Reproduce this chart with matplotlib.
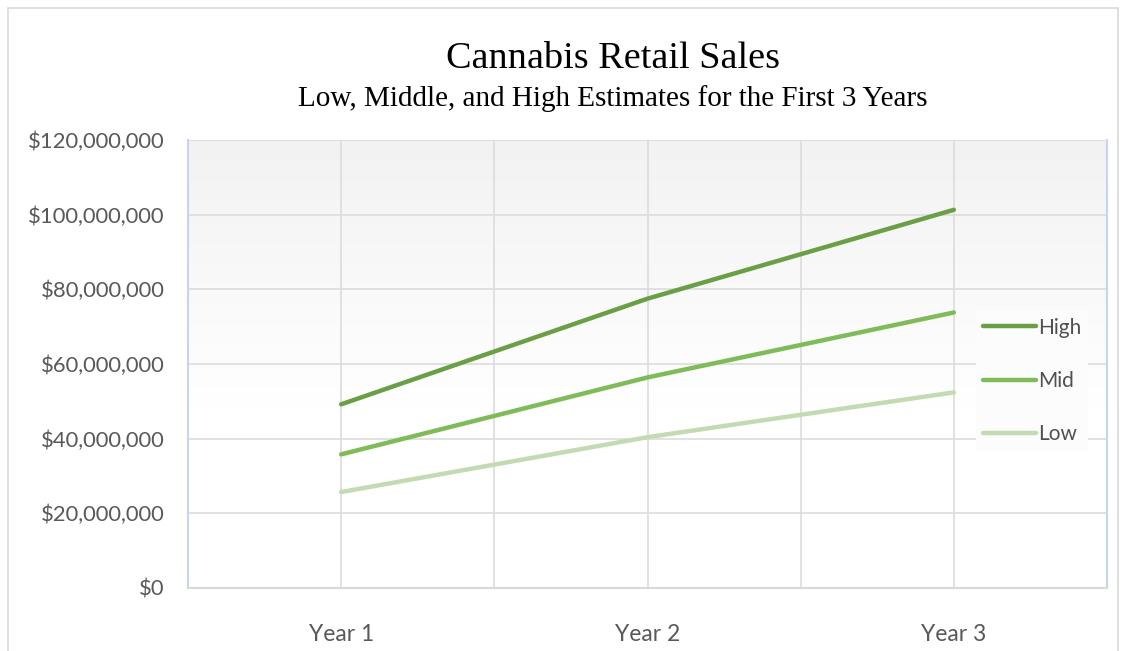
import matplotlib
matplotlib.use("Agg")
import matplotlib.pyplot as plt
import numpy as np
from matplotlib.ticker import FuncFormatter, MultipleLocator
from matplotlib.patches import Rectangle

years = ["Year 1", "Year 2", "Year 3"]
high = [49.2e6, 77.5e6, 101.3e6]
mid = [35.8e6, 56.4e6, 73.8e6]
low = [25.7e6, 40.4e6, 52.4e6]

W, H = 1128, 651
fig = plt.figure(figsize=(W / 100, H / 100), dpi=100)
fig.patch.set_facecolor("white")
fig.patches.append(Rectangle((8 / W, -0.01), (1118 - 8) / W, (H - 8) / H + 0.01,
                             transform=fig.transFigure, fill=False,
                             edgecolor="#d9d9d9", linewidth=1.2))

ax = fig.add_axes([188 / W, (H - 588) / H, (1107 - 188) / W, (588 - 140) / H])

# gradient background
grad = np.ones((256, 1, 3))
t = np.linspace(0, 1, 256)  # 0 top, 1 bottom
shade = np.clip(t / 0.6, 0, 1)
top_c = np.array([0xf2, 0xf2, 0xf2]) / 255
for i in range(256):
    grad[i, 0, :] = top_c + (1 - top_c) * shade[i]
ax.imshow(grad, extent=[0, 1, 0, 1], transform=ax.transAxes, aspect="auto", zorder=0)

x = np.arange(len(years))
ax.plot(x, high, color="#6a9f45", lw=3.2, solid_capstyle="round", label="High", zorder=3)
ax.plot(x, mid, color="#80bb5a", lw=3.2, solid_capstyle="round", label="Mid", zorder=3)
ax.plot(x, low, color="#c2dbb3", lw=3.2, solid_capstyle="round", label="Low", zorder=3)

ax.set_xlim(-0.5, 2.5)
ax.set_ylim(0, 120e6)
ax.set_xticks(x)
ax.set_xticklabels(years)
ax.xaxis.set_minor_locator(MultipleLocator(0.5))
ax.yaxis.set_major_locator(MultipleLocator(20e6))
ax.yaxis.set_major_formatter(FuncFormatter(lambda v, p: "${:,.0f}".format(v)))
ax.grid(True, which="both", axis="x", color="#dcdcdc", lw=1.2, zorder=1)
ax.grid(True, which="major", axis="y", color="#dcdcdc", lw=1.2, zorder=1)
ax.set_axisbelow(True)

ax.tick_params(axis="both", which="both", length=0, labelcolor="#595959")
ax.tick_params(axis="x", labelsize=16.5, pad=26)
ax.tick_params(axis="y", labelsize=15.8, pad=17)
for lab in ax.get_xticklabels() + ax.get_yticklabels():
    lab.set_family("Lato")

ax.spines["top"].set_visible(False)
ax.spines["left"].set_color("#c5d5ee")
ax.spines["right"].set_color("#c5d5ee")
ax.spines["left"].set_linewidth(1.5)
ax.spines["right"].set_linewidth(1.5)
ax.spines["bottom"].set_color("#d9d9d9")
ax.spines["bottom"].set_linewidth(1.5)

leg = ax.legend(loc="center left", bbox_to_anchor=(966 / W, (H - 381) / H),
                bbox_transform=fig.transFigure, frameon=True, fancybox=False,
                handlelength=2.55, handletextpad=0.12, labelspacing=1.6,
                borderpad=0.3, prop={"family": "Lato", "size": 15})
leg.get_frame().set_facecolor("#fcfcfc")
leg.get_frame().set_edgecolor("none")
leg.get_frame().set_alpha(1)
for txt in leg.get_texts():
    txt.set_color("#505050")

fig.text(613 / W, (H - 59) / H, "Cannabis Retail Sales", ha="center", va="center",
         family="Liberation Serif", fontsize=27.5, color="black")
fig.text(613 / W, (H - 99) / H, "Low, Middle, and High Estimates for the First 3 Years",
         ha="center", va="center", family="Liberation Serif", fontsize=21, color="black")

fig.savefig("out.png", dpi=100)
